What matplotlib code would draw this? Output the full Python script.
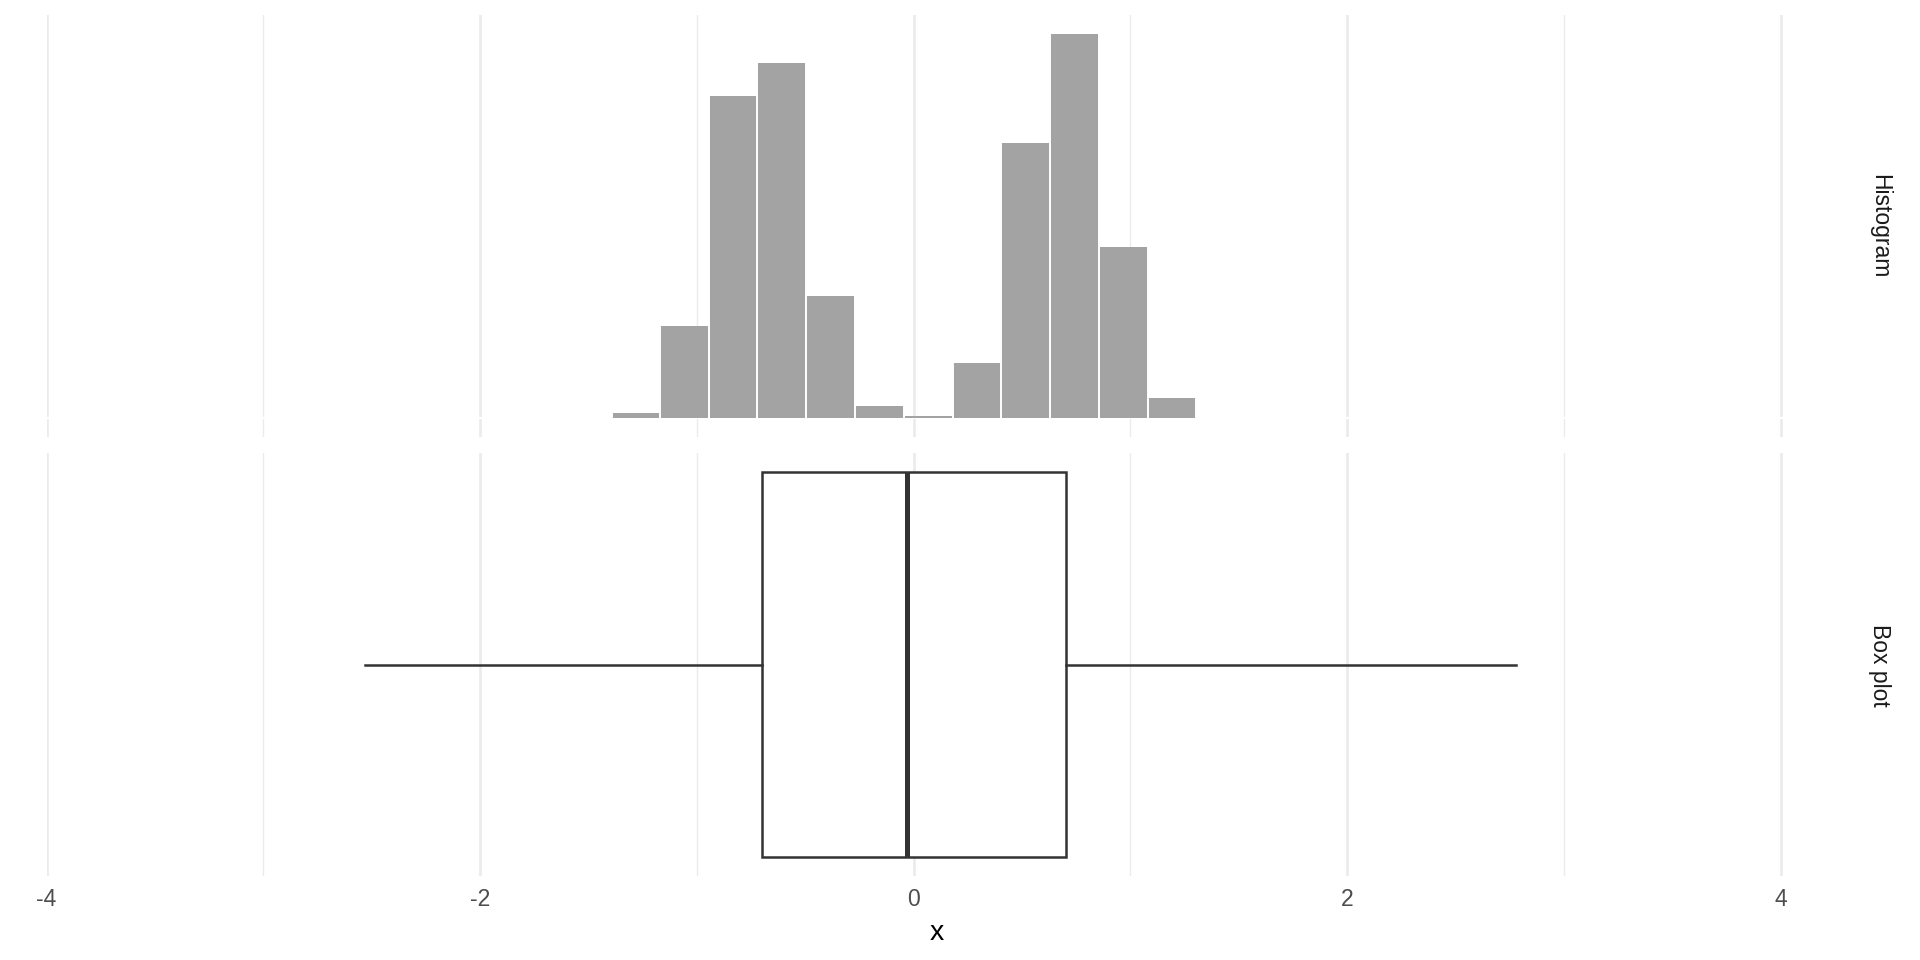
import matplotlib
matplotlib.use("Agg")
import matplotlib.pyplot as plt
import numpy as np

plt.rcParams['font.family'] = ['Liberation Sans', 'DejaVu Sans']

# histogram bins
bin_edges = [-1.39, -1.17, -0.945, -0.72, -0.494, -0.268, -0.042,
             0.181, 0.405, 0.631, 0.857, 1.083, 1.304]
counts = [3, 55, 192, 212, 73, 7, 1, 33, 164, 229, 102, 12]

# box plot summary
box_stats = dict(whislo=-2.53, q1=-0.70, med=-0.032, q3=0.703, whishi=2.778)

x_ticks = [-4, -2, 0, 2, 4]
x_tick_labels = ['-4', '-2', '0', '2', '4']
minor_ticks = [-3, -1, 1, 3]
panel_names = ['Histogram', 'Box plot']

grid_col = '#EBEBEB'
fig = plt.figure(figsize=(19.2, 9.6), dpi=100)

left = 46.5 / 1920
right = 1827 / 1920
ax_hist = fig.add_axes([left, 1 - 437 / 960, right - left, (437 - 15) / 960])
ax_box = fig.add_axes([left, 1 - 876 / 960, right - left, (876 - 453) / 960])

for ax in (ax_hist, ax_box):
    ax.set_xlim(-4, 4.214)
    for s in ax.spines.values():
        s.set_visible(False)
    ax.set_yticks([])
    ax.set_xticks(x_ticks)
    ax.set_xticks(minor_ticks, minor=True)
    ax.grid(True, axis='x', which='major', color=grid_col, lw=1.9)
    ax.grid(True, axis='x', which='minor', color=grid_col, lw=1.0)
    ax.tick_params(axis='x', which='both', length=0)
    ax.set_axisbelow(True)

# histogram: bars without outline, white separators between bins
edges = np.array(bin_edges)
cnt = np.array(counts, dtype=float)
ax_hist.bar(edges[:-1], cnt, width=np.diff(edges), align='edge',
            color='#A3A3A3', linewidth=0, zorder=2)
sep_h = np.maximum(np.r_[0, cnt], np.r_[cnt, 0])
ax_hist.vlines(edges, 0, sep_h, color='white', lw=1.4, zorder=3)
ax_hist.axhline(0, color='white', lw=1.6, zorder=1.5)
top = max(counts)
ax_hist.set_ylim(-0.05 * top, 1.05 * top)
ax_hist.tick_params(axis='x', labelbottom=False)

# box plot
ax_box.bxp([box_stats], positions=[0], widths=0.75, vert=False,
           showfliers=False, showcaps=False, patch_artist=True,
           boxprops=dict(facecolor='white', edgecolor='#333333', linewidth=1.8),
           whiskerprops=dict(color='#333333', linewidth=1.8),
           medianprops=dict(color='#333333', linewidth=3.6, solid_capstyle='butt'))
ax_box.set_ylim(-0.411, 0.411)
ax_box.set_yticks([])
ax_box.set_xticklabels(x_tick_labels)
ax_box.tick_params(axis='x', labelsize=16.5, labelcolor='#4D4D4D', pad=9)
ax_box.set_xlabel('x', fontsize=20.5, color='black', labelpad=6)

# facet strips
fig.text(1880 / 1920, 1 - 226 / 960, panel_names[0], rotation=-90,
         ha='center', va='center', fontsize=16.5, color='#1A1A1A')
fig.text(1880 / 1920, 1 - 665 / 960, panel_names[1], rotation=-90,
         ha='center', va='center', fontsize=16.5, color='#1A1A1A')

fig.savefig('out.png', dpi=100, facecolor='white')
